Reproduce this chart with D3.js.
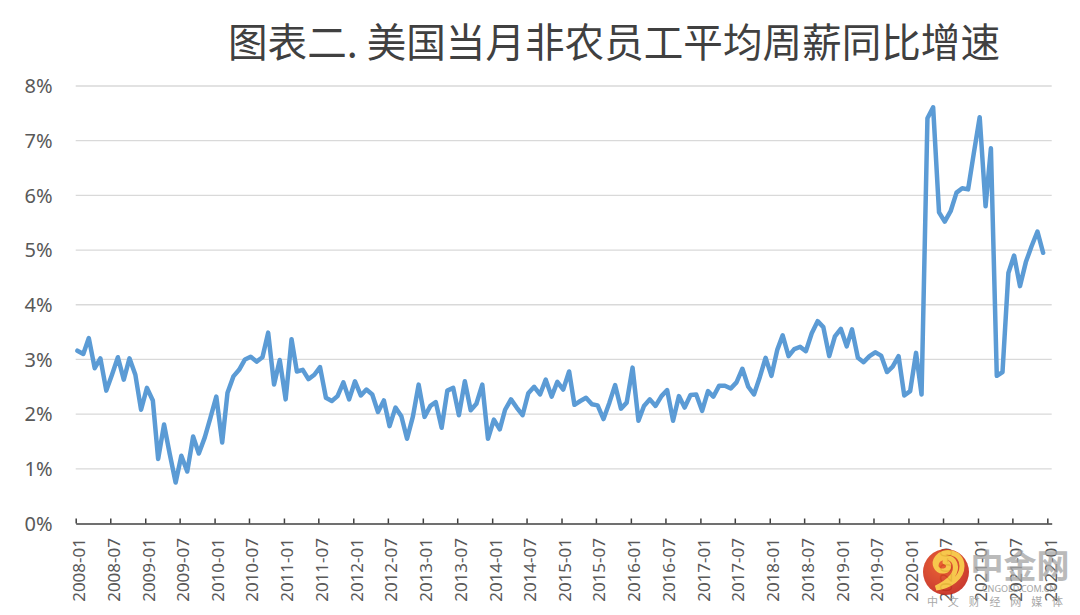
<!DOCTYPE html>
<html>
<head>
<meta charset="utf-8">
<script src="https://cdn.jsdelivr.net/npm/d3@7"></script>
<style>
  html, body { margin: 0; padding: 0; background: #fff; }
  svg { display: block; }
</style>
</head>
<body>
<svg id="chart" width="1080" height="615"></svg>
<script>
// ---------- data ----------
const titleText = "图表二. 美国当月非农员工平均周薪同比增速";
const startYear = 2008;
const startMonth = 0; // January
// YoY growth of average weekly earnings (%), monthly 2008-01 .. 2021-12
const values = [
  3.16, 3.10, 3.39, 2.84, 3.02, 2.43, 2.72, 3.04, 2.63, 3.02, 2.72, 2.08, // 2008
  2.48, 2.25, 1.18, 1.81, 1.27, 0.75, 1.24, 0.95, 1.59, 1.28, 1.57, 1.93, // 2009
  2.32, 1.48, 2.39, 2.69, 2.81, 3.00, 3.05, 2.96, 3.04, 3.49, 2.54, 2.99, // 2010
  2.27, 3.37, 2.78, 2.81, 2.64, 2.72, 2.86, 2.30, 2.24, 2.33, 2.58, 2.27, // 2011
  2.60, 2.34, 2.45, 2.36, 2.04, 2.25, 1.78, 2.12, 1.96, 1.55, 1.96, 2.54, // 2012
  1.95, 2.15, 2.22, 1.75, 2.43, 2.48, 1.98, 2.60, 2.07, 2.19, 2.54, 1.55, // 2013
  1.90, 1.72, 2.08, 2.27, 2.12, 1.98, 2.38, 2.50, 2.36, 2.63, 2.32, 2.59, // 2014
  2.45, 2.78, 2.17, 2.24, 2.30, 2.18, 2.16, 1.91, 2.21, 2.53, 2.10, 2.21, // 2015
  2.85, 1.88, 2.15, 2.27, 2.15, 2.33, 2.44, 1.88, 2.33, 2.12, 2.35, 2.36, // 2016
  2.06, 2.42, 2.32, 2.52, 2.52, 2.47, 2.58, 2.83, 2.50, 2.36, 2.68, 3.03, // 2017
  2.70, 3.18, 3.44, 3.06, 3.19, 3.23, 3.15, 3.48, 3.70, 3.59, 3.06, 3.42, // 2018
  3.56, 3.24, 3.55, 3.03, 2.95, 3.06, 3.13, 3.07, 2.77, 2.87, 3.06, 2.34, // 2019
  2.42, 3.12, 2.36, 7.41, 7.61, 5.69, 5.52, 5.71, 6.05, 6.13, 6.11, 6.77, // 2020
  7.43, 5.80, 6.86, 2.70, 2.77, 4.58, 4.90, 4.34, 4.78, 5.07, 5.34, 4.95  // 2021
];
const categories = values.map((v, i) => new Date(startYear, startMonth + i, 10));
const tickLabels = [
  "2008-01","2008-07","2009-01","2009-07","2010-01","2010-07","2011-01","2011-07",
  "2012-01","2012-07","2013-01","2013-07","2014-01","2014-07","2015-01","2015-07",
  "2016-01","2016-07","2017-01","2017-07","2018-01","2018-07","2019-01","2019-07",
  "2020-01","2020-07","2021-01","2021-07","2022-01"
];
const yTicks = [0, 1, 2, 3, 4, 5, 6, 7, 8];

// ---------- layout ----------
const svg = d3.select("#chart");
const plotLeft = 75.7, plotRight = 1051.7, plotTop = 86, plotBottom = 523.5;

const tickDates = tickLabels.map(s => {
  const [y, m] = s.split("-").map(Number);
  return new Date(y, m - 1, 1);
});

const x = d3.scaleTime()
  .domain([new Date(2008, 0, 1), new Date(2022, 0, 24)])
  .range([plotLeft, plotRight]);
const y = d3.scaleLinear().domain([0, 8]).range([plotBottom, plotTop]);

// title
svg.append("text")
  .attr("x", 228).attr("y", 57)
  .attr("textLength", 772).attr("lengthAdjust", "spacingAndGlyphs")
  .style("font-family", "'Noto Sans CJK SC', sans-serif")
  .style("font-size", "40px")
  .style("fill", "#404040")
  .text(titleText);

// grid lines
svg.append("g").selectAll("line")
  .data(yTicks.filter(d => d > 0))
  .join("line")
  .attr("x1", plotLeft).attr("x2", plotRight)
  .attr("y1", d => y(d)).attr("y2", d => y(d))
  .attr("stroke", "#D9D9D9").attr("stroke-width", 1.3);

// y labels
svg.append("g").selectAll("text")
  .data(yTicks)
  .join("text")
  .attr("x", 52.5).attr("y", d => y(d))
  .attr("dy", "0.36em")
  .attr("text-anchor", "end")
  .style("font-family", "'Noto Sans', sans-serif")
  .style("font-size", "20px")
  .style("fill", "#595959")
  .text(d => d + "%");

// x axis
const xAxis = d3.axisBottom(x)
  .tickValues(tickDates)
  .tickSize(-5)
  .tickSizeOuter(0)
  .tickFormat((d, i) => tickLabels[i]);

const gx = svg.append("g")
  .attr("transform", `translate(0,${plotBottom})`)
  .call(xAxis);
gx.select(".domain").attr("stroke", "#404040").attr("stroke-width", 1.5);
gx.selectAll(".tick line").attr("stroke", "#404040").attr("stroke-width", 1.5);
gx.selectAll(".tick text")
  .attr("transform", "rotate(-90)")
  .attr("text-anchor", "end")
  .attr("x", -14.5)
  .attr("y", 3)
  .attr("dy", "0.35em")
  .style("font-family", "'Noto Sans', sans-serif")
  .style("font-size", "17px")
  .style("fill", "#595959");

// line
const line = d3.line()
  .x((d, i) => x(categories[i]))
  .y(d => y(d));

svg.append("path")
  .datum(values)
  .attr("d", line)
  .attr("fill", "none")
  .attr("stroke", "#5B9BD5")
  .attr("stroke-width", 4.5)
  .attr("stroke-linejoin", "round")
  .attr("stroke-linecap", "round");

// watermark
const wm = svg.append("g").attr("opacity", 0.9);
const grad = svg.append("defs").append("radialGradient").attr("id", "logoGrad")
  .attr("cx", "40%").attr("cy", "35%").attr("r", "70%");
grad.append("stop").attr("offset", "0%").attr("stop-color", "#e8521f");
grad.append("stop").attr("offset", "100%").attr("stop-color", "#c3241a");
wm.append("circle").attr("cx", 946).attr("cy", 572).attr("r", 23).attr("fill", "url(#logoGrad)");
wm.append("path")
  .attr("d", "M936,566 C936,556 952,554 955,564 C958,574 948,582 936,588 C950,586 962,578 962,566 C962,552 944,548 937,558 C933,563 936,572 944,571 C950,570 950,563 945,562")
  .attr("fill", "none").attr("stroke", "#f7c23a").attr("stroke-width", 5).attr("stroke-linecap", "round");
wm.append("text")
  .attr("x", 1020).attr("y", 578)
  .attr("text-anchor", "middle")
  .style("font-family", "'Noto Sans CJK SC', sans-serif")
  .style("font-weight", "700")
  .style("font-size", "33px")
  .style("fill", "#a6a6a6")
  .style("opacity", 0.85)
  .text("中金网");
wm.append("text")
  .attr("x", 1019).attr("y", 592)
  .attr("text-anchor", "middle")
  .style("font-family", "'Noto Sans', sans-serif")
  .style("font-size", "9px")
  .style("fill", "#9a9a9a")
  .text("CNGOLD.COM.CN");
wm.append("text")
  .attr("x", 927).attr("y", 606)
  .attr("textLength", 136)
  .attr("lengthAdjust", "spacing")
  .style("font-family", "'Noto Sans CJK SC', sans-serif")
  .style("font-size", "11px")
  .style("fill", "#a0a0a0")
  .text("中文财经网媒体");
</script>
</body>
</html>
